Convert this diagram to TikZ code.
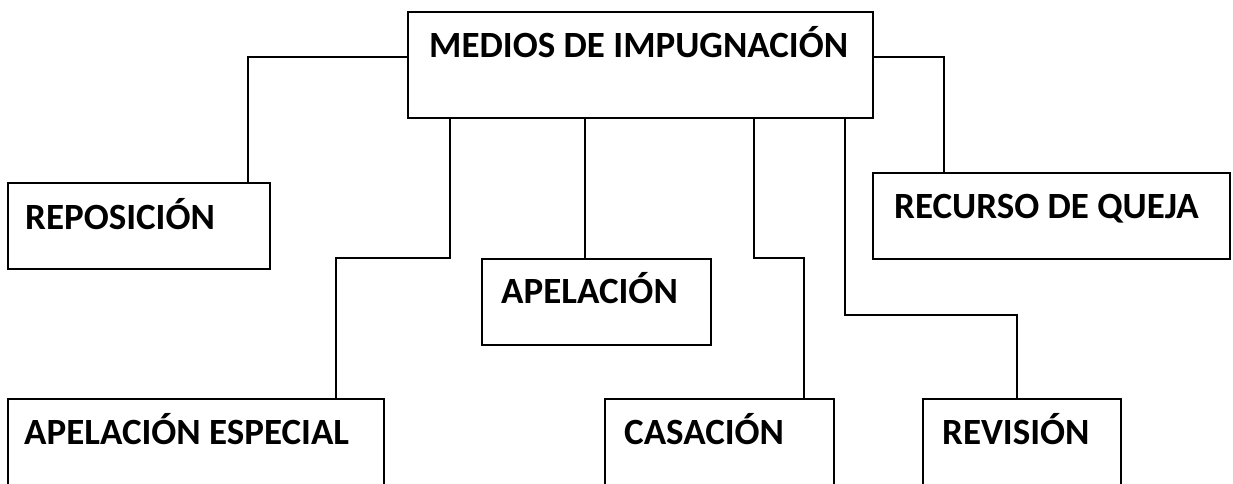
\documentclass[tikz,border=0pt]{standalone}
\usepackage{fontspec}
\setmainfont{Carlito}
\usetikzlibrary{calc}
\begin{document}
\begin{tikzpicture}[x=1pt,y=-1pt,
  box/.style={draw=black, line width=1.6pt, rectangle, inner sep=0pt, anchor=north west},
  lbl/.style={anchor=base west, inner sep=0pt, font=\fontsize{37}{44}\selectfont\bfseries},
  conn/.style={draw=black, line width=1.3pt}]
\clip (0,0) rectangle (1233,483);
\fill[white] (0,0) rectangle (1233,483);
% boxes
\node[box, minimum width=465pt, minimum height=106pt] (main) at (407,11) {};
\node[box, minimum width=262pt, minimum height=86pt] (repo) at (7,182) {};
\node[box, minimum width=357pt, minimum height=86pt] (queja) at (872,172) {};
\node[box, minimum width=229pt, minimum height=86pt] (apel) at (481,258) {};
\node[box, minimum width=376pt, minimum height=120pt] (apesp) at (7,398) {};
\node[box, minimum width=229pt, minimum height=120pt] (cas) at (604,398) {};
\node[box, minimum width=198pt, minimum height=120pt] (rev) at (922,398) {};
% labels
\node[lbl] (tmain) at (429,57) {MEDIOS DE IMPUGNACIÓN};
\node[lbl] (trepo) at (25,229) {REPOSICIÓN};
\node[lbl] (tqueja) at (894,218) {RECURSO DE QUEJA};
\node[lbl] (tapel) at (501,303) {APELACIÓN};
\node[lbl] (tapesp) at (24,444) {APELACIÓN ESPECIAL};
\node[lbl] (tcas) at (624,444) {CASACIÓN};
\node[lbl] (trev) at (942,444) {REVISIÓN};
% connectors
\draw[conn] ($(main.north west)+(0,46)$) -| ($(repo.north west)+(241,0)$);
\draw[conn] ($(main.north east)+(0,46)$) -| ($(queja.north west)+(72,0)$);
\draw[conn] ($(main.south west)+(43,0)$) |- ($(apesp.north west)+(329,-140)$) -- ($(apesp.north west)+(329,0)$);
\draw[conn] ($(main.south west)+(178,0)$) -- ($(apel.north west)+(104,0)$);
\draw[conn] ($(main.south west)+(347,0)$) |- ($(cas.north west)+(200,-140)$) -- ($(cas.north west)+(200,0)$);
\draw[conn] ($(main.south west)+(438,0)$) |- ($(rev.north west)+(95,-83)$) -- ($(rev.north west)+(95,0)$);
\end{tikzpicture}
\end{document}
